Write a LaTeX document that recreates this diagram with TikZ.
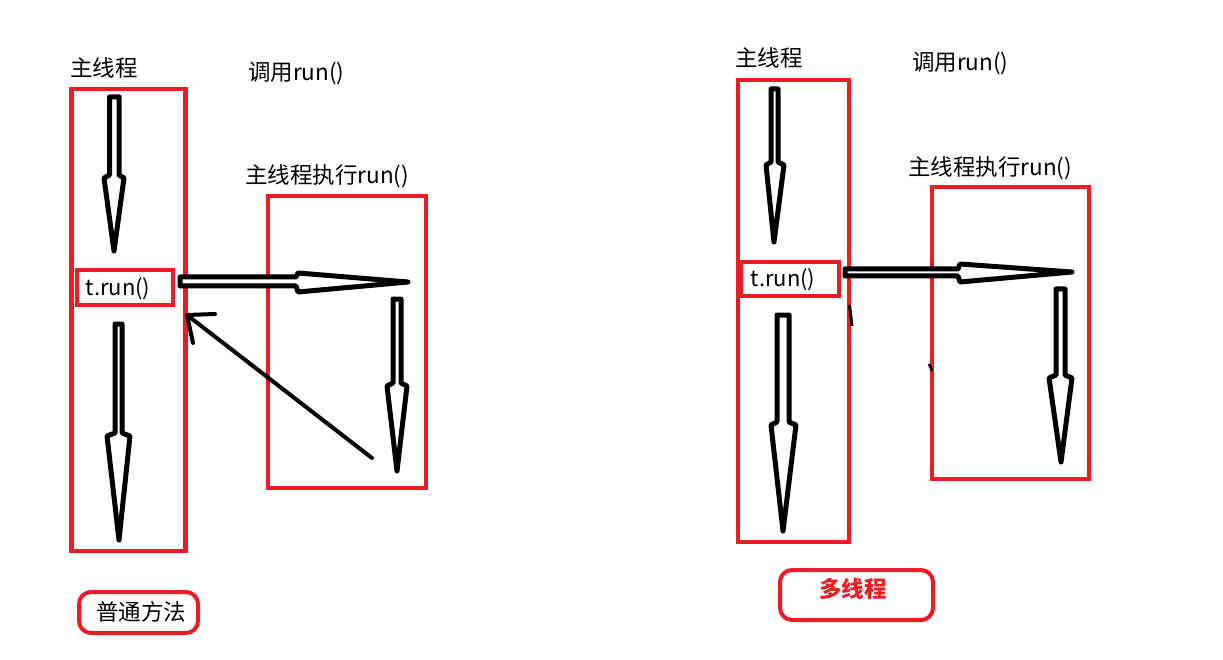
\documentclass[tikz,border=0pt]{standalone}
\usepackage{fontspec}
\setmainfont{Noto Sans CJK SC}
\definecolor{pred}{RGB}{237,28,36}
\begin{document}
\begin{tikzpicture}[x=1pt,y=-1pt,
  redbox/.style={draw=pred,line width=4.5pt},
  blk/.style={draw=black,line width=5pt,line join=round,fill=white},
  lbl/.style={inner sep=0pt,anchor=west,font=\fontsize{22.5}{25}\selectfont},
  callbl/.style={inner sep=0pt,font=\fontsize{22}{25}\selectfont},
  thin/.style={draw=black,line width=4pt,line cap=round}]
\useasboundingbox[fill=white] (0,0) rectangle (1223,660);

% ---------- left panel ----------
\node[lbl] (mainL) at (70,68) {主线程};
\node[lbl] (callL) at (248,74) {调用run()};
\node[lbl] (execL) at (245,176) {主线程执行run()};
\draw[redbox] (71.5,89) rectangle (185.5,551);
\draw[redbox] (77,270) rectangle (173,305);
\node[callbl] (trunL) at (118,289) {t.run()};
\draw[redbox] (268,196) rectangle (426,488);

% down arrow 1
\draw[blk] (109.5,97) -- (119,97) -- (119,175) -- (124,178) -- (114,251) -- (104,178) -- (109.5,175) -- cycle;
% down arrow 2
\draw[blk] (115,324) -- (122,324) -- (122,433) -- (130,436) -- (119,540) -- (107,436) -- (115,433) -- cycle;
% horizontal arrow
\draw[blk] (180,277) -- (296,277) -- (298,273) -- (408,282) -- (298,292) -- (296,286) -- (180,286) -- cycle;
% down arrow in right box
\draw[blk] (393,299) -- (401,299) -- (401,383) -- (407,386) -- (397,471) -- (387,386) -- (393,383) -- cycle;
% thin return arrow
\coordinate (retS) at (372,458);
\coordinate (retE) at (187,315);
\draw[thin] (retS) -- (retE);
\draw[thin] (retE) -- (215,314);
\draw[thin] (retE) -- (193,343);

\draw[pred,line width=4pt,rounded corners=12pt] (79,592) rectangle (198,633);
\node[callbl,font=\fontsize{22.5}{25}\selectfont] (normal) at (141,612) {普通方法};

% ---------- right panel ----------
\node[lbl] (mainR) at (735,58) {主线程};
\node[lbl] (callR) at (912,64) {调用run()};
\node[lbl] (execR) at (908,168) {主线程执行run()};
\draw[redbox] (738,80) rectangle (849,542);
\draw[redbox] (741,262) rectangle (839,296);
\node[callbl] (trunR) at (783,280) {t.run()};
\draw[redbox] (932,187) rectangle (1089,479);

% down arrow 1
\draw[blk] (771,89) -- (778,89) -- (778,162) -- (784,165) -- (774,242) -- (766,165) -- (771,162) -- cycle;
% down arrow 2
\draw[blk] (777,315) -- (789,315) -- (789,422) -- (796,425) -- (783,531) -- (771,425) -- (777,422) -- cycle;
% horizontal arrow
\draw[blk] (845,269) -- (958,269) -- (960,264) -- (1072,272) -- (960,282) -- (958,276) -- (845,276) -- cycle;
% down arrow in right box
\draw[blk] (1056,289) -- (1065,289) -- (1065,375) -- (1072,378) -- (1061,462) -- (1049,378) -- (1056,375) -- cycle;
% leftover marks
\coordinate (m1a) at (849.5,305);
\coordinate (m1b) at (852,326);
\draw[black,line width=3pt] (m1a) -- (m1b);
\coordinate (m2a) at (929,364);
\coordinate (m2b) at (932,371);
\draw[black,line width=2.5pt] (m2a) -- (m2b);

\draw[pred,line width=4pt,rounded corners=12pt] (780,570) rectangle (933,620);
\node[callbl,font=\fontsize{22.5}{25}\selectfont\bfseries,text=pred] (multi) at (853,589) {多线程};
\end{tikzpicture}
\end{document}
